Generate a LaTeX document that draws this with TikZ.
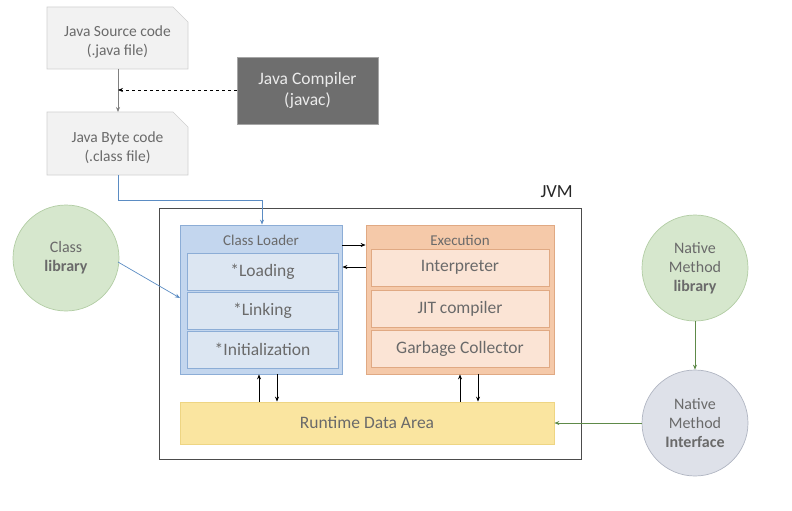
\documentclass[tikz,border=0pt]{standalone}
\usepackage{fontspec}
\setmainfont{Carlito}
\usetikzlibrary{arrows.meta}
\definecolor{txt}{HTML}{6A6A6A}
\definecolor{docfill}{HTML}{F2F2F2}
\definecolor{docline}{HTML}{D0D0D0}
\definecolor{compfill}{HTML}{6E6E6E}
\definecolor{clfill}{HTML}{C3D6EE}
\definecolor{clline}{HTML}{8CADD6}
\definecolor{clin}{HTML}{DCE6F2}
\definecolor{exfill}{HTML}{F5C9A9}
\definecolor{exline}{HTML}{E0A983}
\definecolor{exin}{HTML}{FBE4D5}
\definecolor{rtfill}{HTML}{FAE5A0}
\definecolor{rtline}{HTML}{EED583}
\definecolor{grfill}{HTML}{D6E7CD}
\definecolor{grline}{HTML}{B2CDA4}
\definecolor{nifill}{HTML}{DEE1E9}
\definecolor{niline}{HTML}{B0B5C2}
\definecolor{blueln}{HTML}{5B8CC3}
\definecolor{greenln}{HTML}{5E8A49}
\begin{document}
\begin{tikzpicture}[x=1pt,y=-1pt,
  lbl/.style={text=txt,align=center,font=\fontsize{15.5}{19}\selectfont},
  doc/.style={fill=docfill,draw=docline,line width=0.6pt},
  inbox/.style={draw=clline,fill=clin,line width=0.8pt,minimum width=151pt,minimum height=37pt,inner sep=0pt,text=txt,font=\fontsize{17.5}{20}\selectfont},
  exbox/.style={draw=exline,fill=exin,line width=0.8pt,minimum width=178pt,minimum height=37pt,inner sep=0pt,text=txt,font=\fontsize{17.5}{20}\selectfont},
  circ/.style={circle,minimum size=106pt,inner sep=0pt,line width=0.7pt,text=txt,align=center,font=\fontsize{16}{19}\selectfont},
  arr/.style={-{Stealth[length=5pt,width=4pt]},line width=0.7pt},
]
\useasboundingbox (0,0) rectangle (792,511);
% document shapes
\draw[doc] (47,7) -- (173,7) -- (188,22) -- (188,69) -- (47,69) -- cycle;
\node[lbl] (src) at (117.5,42) {Java Source code\\(.java file)};
\coordinate (srcb) at (118,69);
\draw[doc] (47,112) -- (173,112) -- (188,127) -- (188,175) -- (47,175) -- cycle;
\node[lbl] (byte) at (117.5,148) {Java Byte code\\(.class file)};
\coordinate (bytet) at (118,112);
\coordinate (byteb) at (118,175);
% compiler
\node[fill=compfill,draw=gray!70,minimum width=141pt,minimum height=67pt,inner sep=0pt,text=white!92!black,align=center,font=\fontsize{17.5}{21}\selectfont] (comp) at (307.5,90.5) {Java Compiler\\(javac)};
\coordinate (mid) at (118,90);
\draw[arr,color=gray] (srcb) -- (bytet);
\draw[arr,dashed,black] (comp.west |- mid) -- (mid);
% JVM
\node[draw=black!70,line width=0.7pt,minimum width=422pt,minimum height=251pt,inner sep=0pt] (jvm) at (370,333.5) {};
\node[text=black!85,font=\fontsize{18.5}{20}\selectfont,anchor=south east,inner sep=0pt] (jvml) at (573,198) {JVM};
% class loader
\node[fill=clfill,draw=clline,line width=0.8pt,minimum width=162pt,minimum height=149pt,inner sep=0pt] (cl) at (261,299.5) {};
\node[text=txt,font=\fontsize{15}{17}\selectfont] (clt) at (261,240) {Class Loader};
\node[inbox] (load) at (262.5,271.5) {*Loading};
\node[inbox] (link) at (262.5,310.5) {*Linking};
\node[inbox] (init) at (262.5,349.5) {*Initialization};
% execution
\node[fill=exfill,draw=exline,line width=0.8pt,minimum width=188pt,minimum height=149pt,inner sep=0pt] (ex) at (460,299.5) {};
\node[text=txt,font=\fontsize{15}{17}\selectfont] (ext) at (460,240) {Execution};
\node[exbox] (interp) at (460,267.5) {Interpreter};
\node[exbox] (jit) at (460,308.5) {JIT compiler};
\node[exbox] (gc) at (460,349) {Garbage Collector};
% runtime
\node[fill=rtfill,draw=rtline,line width=0.8pt,minimum width=374pt,minimum height=42pt,inner sep=0pt,text=txt,font=\fontsize{17.5}{20}\selectfont] (rt) at (367,423) {Runtime Data Area};
% arrows between cl and ex
\coordinate (a1) at (0,245);
\coordinate (a2) at (0,267);
\draw[arr] (cl.east |- a1) -- (ex.west |- a1);
\draw[arr] (ex.west |- a2) -- (cl.east |- a2);
% vertical arrows
\coordinate (v1) at (259,0);
\coordinate (v2) at (277,0);
\coordinate (v3) at (460,0);
\coordinate (v4) at (478,0);
\draw[arr] (rt.north -| v1) -- (cl.south -| v1);
\draw[arr] (cl.south -| v2) -- (rt.north -| v2);
\draw[arr] (rt.north -| v3) -- (ex.south -| v3);
\draw[arr] (ex.south -| v4) -- (rt.north -| v4);
% byte -> class loader
\coordinate (bend) at (262,200);
\draw[arr,blueln] (byteb) -- (118,200) -- (bend) -- (cl.north -| bend);
% circles
\node[circ,fill=grfill,draw=grline] (clib) at (66,258) {Class\\\textbf{library}};
\coordinate (ce) at (118,262);
\coordinate (clin) at (180,298);
\draw[arr,blueln] (ce) -- (clin);
\node[circ,fill=grfill,draw=grline] (nml) at (695,268) {Native\\Method\\\textbf{library}};
\node[circ,fill=nifill,draw=niline] (nmi) at (695,423) {Native\\Method\\\textbf{Interface}};
\draw[arr,greenln] (nml.south) -- (nmi.north);
\draw[arr,greenln] (nmi.west) -- (rt.east);
\end{tikzpicture}
\end{document}
